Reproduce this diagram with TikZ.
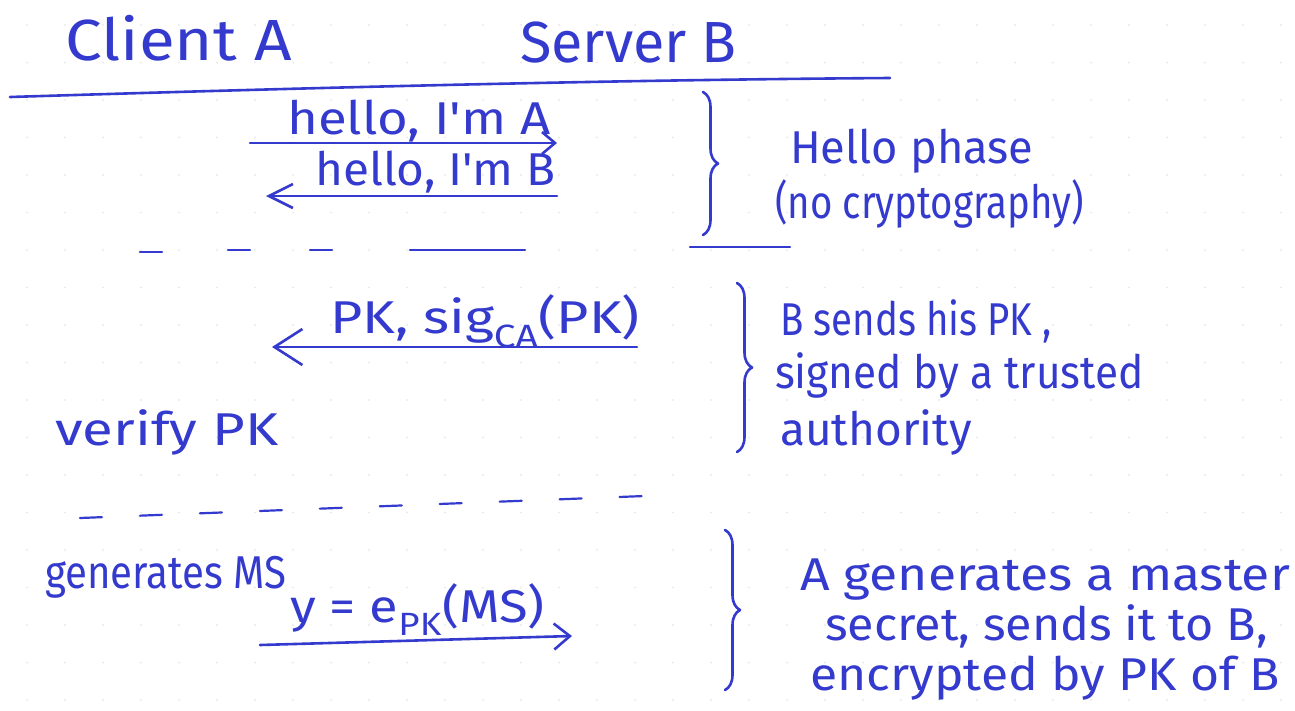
\documentclass[tikz,border=0pt]{standalone}
\usepackage{graphicx}
\usepackage{fontspec}
\newfontfamily\handfont[FakeStretch=0.78]{Fira Sans}
\usetikzlibrary{arrows.meta,decorations.pathreplacing}
\definecolor{ink}{RGB}{52,58,205}
\newcommand\widen[2]{\scalebox{#1}[1]{#2}}
\begin{document}
\begin{tikzpicture}[x=1pt,y=-1pt,
  hand/.style={text=ink, font=\handfont\fontsize{46}{52}\selectfont, inner sep=0pt, anchor=base west},
  head/.style={hand, font=\handfont\fontsize{58}{64}\selectfont},
  pen/.style={draw=ink, line width=2.6pt, line cap=round, line join=round},
  sep/.style={pen, line width=2.2pt},
  bracestyle/.style={pen, decorate, decoration={brace, amplitude=15pt}},
  griddot/.style={fill=black!8, draw=none}]
\useasboundingbox (0,0) rectangle (1295,710);
\fill[white] (0,0) rectangle (1295,710);
% dot grid of the paper
\foreach \i in {0,...,33} {
  \foreach \j in {0,...,18} {
    \fill[griddot] (27+38*\i, 25+37.5*\j) circle (1.2pt);
  }
}
% header
\node[head] (client) at (65,60) {\widen{1.45}{Client A}};
\node[head] (server) at (520,62) {\widen{1.27}{Server B}};
\coordinate (hl1) at (10,97);
\coordinate (hl2) at (890,78);
\draw[pen] (hl1) .. controls (300,88) and (600,80) .. (hl2);

% hello phase
\node[hand] (m1) at (287,134) {\widen{1.47}{hello, I'm A}};
\coordinate (m1s) at (250,143);
\coordinate (m1e) at (557,143);
\draw[pen, -{Straight Barb[length=13pt,width=22pt,line width=2.6pt]}] (m1s) -- (m1e);
\node[hand] (m2) at (315,185) {\widen{1.33}{hello, I'm B}};
\coordinate (m2s) at (557,196);
\coordinate (m2e) at (266,196);
\draw[pen, -{Straight Barb[length=24pt,width=24pt,line width=2.6pt]}] (m2s) -- (m2e);
\coordinate (b1t) at (703,92);
\coordinate (b1b) at (703,235);
\draw[bracestyle] (b1t) -- (b1b);
\node[hand] (n1a) at (790,163) {\widen{1.26}{Hello phase}};
\node[hand] (n1b) at (775,218) {\widen{1.07}{(no cryptography)}};

% separator 1
\draw[sep] (140,252) -- (162,252) (228,250) -- (250,250) (310,250) -- (332,250)
  (410,250) -- (525,250) (690,247) -- (790,247);

% certificate phase
\node[hand] (m3) at (330,333) {\widen{1.55}{PK, sig\textsubscript{CA}(PK)}};
\coordinate (m3s) at (637,347);
\coordinate (m3e) at (272,347);
\draw[pen, -{Straight Barb[length=28pt,width=36pt,line width=2.6pt]}] (m3s) -- (m3e);
\coordinate (b2t) at (737,283);
\coordinate (b2b) at (737,452);
\draw[bracestyle] (b2t) -- (b2b);
\node[hand] (n2a) at (780,335) {\widen{1.07}{B sends his PK ,}};
\node[hand] (n2b) at (775,388) {\widen{1.18}{signed by a trusted}};
\node[hand] (n2c) at (780,445) {\widen{1.28}{authority}};
\node[hand] (verify) at (55,445) {\widen{1.57}{verify PK}};

% separator 2
\coordinate (s2a) at (80,518);
\coordinate (s2b) at (670,495);
\draw[sep, dash pattern=on 22pt off 38pt] (s2a) -- (s2b);

% key exchange phase
\node[hand] (gen) at (45,588) {\widen{1.12}{generates MS}};
\node[hand] (m4) at (290,622) {\widen{1.46}{y = e\textsubscript{PK}(MS)}};
\coordinate (m4s) at (260,645);
\coordinate (m4e) at (572,636);
\draw[pen, -{Straight Barb[length=16pt,width=26pt,line width=2.6pt]}] (m4s) -- (m4e);
\coordinate (b3t) at (725,530);
\coordinate (b3b) at (725,690);
\draw[bracestyle] (b3t) -- (b3b);
\node[hand] (n3a) at (800,590) {\widen{1.44}{A generates a master}};
\node[hand] (n3b) at (825,640) {\widen{1.35}{secret, sends it to B,}};
\node[hand] (n3c) at (810,690) {\widen{1.39}{encrypted by PK of B}};
\end{tikzpicture}
\end{document}
